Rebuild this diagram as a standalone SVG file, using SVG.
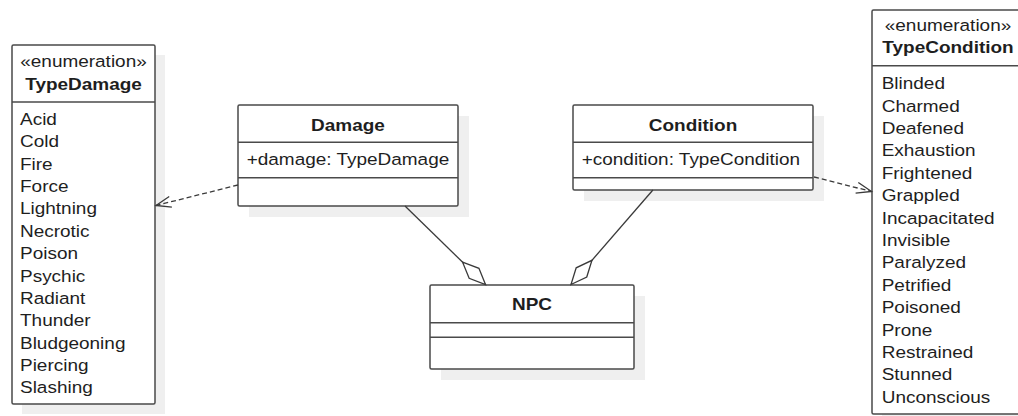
<svg xmlns="http://www.w3.org/2000/svg" width="1018" height="416" viewBox="0 0 1018 416">
<style>
.bg{fill:#ffffff}
.sh{fill:#efefef;stroke:none}
.box{fill:#ffffff;stroke:#4a4a4a;stroke-width:1.5}
.div{stroke:#4a4a4a;stroke-width:1.5}
text{font-family:"Liberation Sans",Arial,sans-serif;font-size:16.5px;fill:#1e1e1e}
.b{font-weight:bold}
.c{text-anchor:middle}
.ln{fill:none;stroke:#3a3a3a;stroke-width:1.3}
.dash{stroke-dasharray:5 3}
</style>
<defs>
<marker id="diamond" markerUnits="userSpaceOnUse" viewBox="-34 -9 36 18" markerWidth="36" markerHeight="18" refX="0" refY="0" orient="auto">
<path d="M0,0 L-16,-7 L-32,0 L-16,7 Z" fill="#ffffff" stroke="#3a3a3a" stroke-width="1.3"/>
</marker>
<marker id="open" markerUnits="userSpaceOnUse" viewBox="-17 -8 19 16" markerWidth="19" markerHeight="16" refX="0" refY="0" orient="auto">
<path d="M-15,-5.5 L0,0 L-15,5.5" fill="none" stroke="#3a3a3a" stroke-width="1.3"/>
</marker>
</defs>
<rect class="bg" x="0" y="0" width="1018" height="416"/>

<g id="TypeDamage">
<rect class="sh" x="22" y="55" width="143" height="359"/>
<rect class="box" x="12" y="45" width="143" height="359" rx="1.5"/>
<line class="div" x1="12" y1="102" x2="155" y2="102"/>
<text class="c" transform="translate(83.5 67) scale(1.15 1)">«enumeration»</text>
<text class="c b" transform="translate(83.5 90) scale(1.15 1)">TypeDamage</text>
<text transform="translate(20 0) scale(1.15 1)"><tspan x="0" y="125">Acid</tspan><tspan x="0" y="147.36">Cold</tspan><tspan x="0" y="169.72">Fire</tspan><tspan x="0" y="192.08">Force</tspan><tspan x="0" y="214.44">Lightning</tspan><tspan x="0" y="236.8">Necrotic</tspan><tspan x="0" y="259.16">Poison</tspan><tspan x="0" y="281.52">Psychic</tspan><tspan x="0" y="303.88">Radiant</tspan><tspan x="0" y="326.24">Thunder</tspan><tspan x="0" y="348.6">Bludgeoning</tspan><tspan x="0" y="370.96">Piercing</tspan><tspan x="0" y="393.32">Slashing</tspan></text>
</g>

<g id="Damage">
<rect class="sh" x="249" y="116" width="220" height="101"/>
<rect class="box" x="238" y="105" width="220" height="101" rx="1.5"/>
<line class="div" x1="238" y1="142.3" x2="458" y2="142.3"/>
<line class="div" x1="238" y1="177.7" x2="458" y2="177.7"/>
<text class="c b" transform="translate(348 130.7) scale(1.15 1)">Damage</text>
<text transform="translate(246.7 165) scale(1.15 1)">+damage: TypeDamage</text>
</g>

<g id="Condition">
<rect class="sh" x="584" y="116" width="240" height="85"/>
<rect class="box" x="573" y="105" width="240" height="85" rx="1.5"/>
<line class="div" x1="573" y1="142.3" x2="813" y2="142.3"/>
<line class="div" x1="573" y1="177.7" x2="813" y2="177.7"/>
<text class="c b" transform="translate(693 130.7) scale(1.15 1)">Condition</text>
<text transform="translate(581.7 165) scale(1.15 1)">+condition: TypeCondition</text>
</g>

<g id="NPC">
<rect class="sh" x="441" y="296" width="204" height="84"/>
<rect class="box" x="430" y="285" width="204" height="84" rx="1.5"/>
<line class="div" x1="430" y1="322.7" x2="634" y2="322.7"/>
<line class="div" x1="430" y1="337.3" x2="634" y2="337.3"/>
<text class="c b" transform="translate(532 310) scale(1.15 1)">NPC</text>
</g>

<g id="TypeCondition">
<rect class="sh" x="882" y="20" width="150" height="404"/>
<rect class="box" x="872" y="10" width="150" height="404" rx="1.5"/>
<line class="div" x1="872" y1="65.7" x2="1022" y2="65.7"/>
<text class="c" transform="translate(948 30.7) scale(1.15 1)">«enumeration»</text>
<text class="c b" transform="translate(948 53) scale(1.15 1)">TypeCondition</text>
<text transform="translate(881.7 0) scale(1.15 1)"><tspan x="0" y="89.3">Blinded</tspan><tspan x="0" y="111.69">Charmed</tspan><tspan x="0" y="134.08">Deafened</tspan><tspan x="0" y="156.47">Exhaustion</tspan><tspan x="0" y="178.86">Frightened</tspan><tspan x="0" y="201.25">Grappled</tspan><tspan x="0" y="223.64">Incapacitated</tspan><tspan x="0" y="246.03">Invisible</tspan><tspan x="0" y="268.42">Paralyzed</tspan><tspan x="0" y="290.81">Petrified</tspan><tspan x="0" y="313.2">Poisoned</tspan><tspan x="0" y="335.59">Prone</tspan><tspan x="0" y="357.98">Restrained</tspan><tspan x="0" y="380.37">Stunned</tspan><tspan x="0" y="402.76">Unconscious</tspan></text>
</g>

<g id="connectors">
<line class="ln dash" x1="238" y1="185" x2="156" y2="205.5" marker-end="url(#open)"/>
<line class="ln dash" x1="814" y1="177" x2="871.5" y2="191.5" marker-end="url(#open)"/>
<line class="ln" x1="405" y1="206" x2="485.5" y2="284.5" marker-end="url(#diamond)"/>
<line class="ln" x1="652.9" y1="190" x2="571" y2="284.5" marker-end="url(#diamond)"/>
</g>
</svg>
